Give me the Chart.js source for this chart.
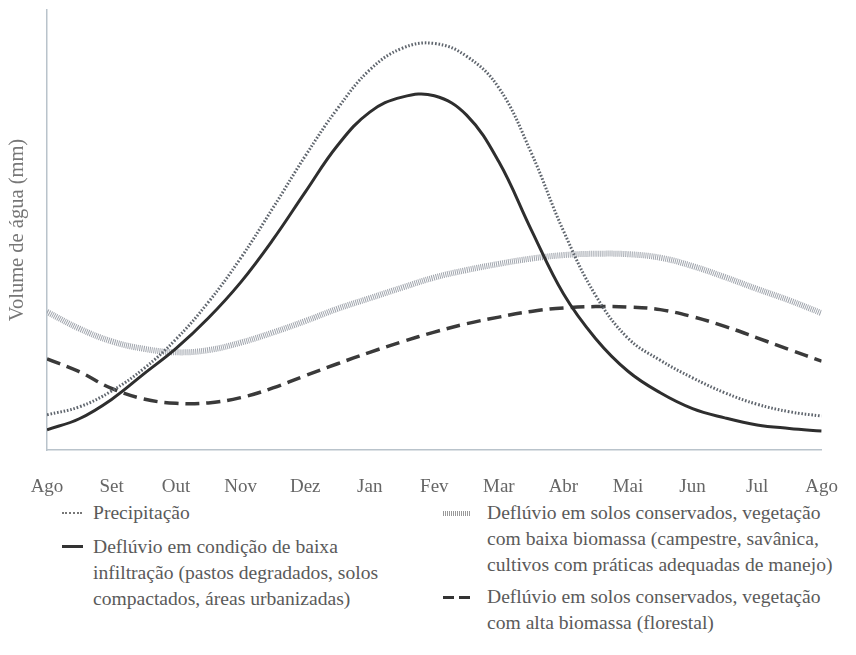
<!DOCTYPE html>
<html>
<head>
<meta charset="utf-8">
<script src="https://cdn.jsdelivr.net/npm/chart.js@4"></script>
<style>
  body { margin: 0; background: #fff; }
  #wrap { position: relative; width: 856px; height: 655px; font-family: "Liberation Serif", "DejaVu Serif", serif; color: #5a5a5a; }
  #grafico { position: absolute; left: 0; top: 0; }
  .item { position: absolute; font-size: 19.6px; line-height: 26px; white-space: nowrap; }
  .amostra { position: absolute; }
</style>
</head>
<body>
<div id="wrap">
  <canvas id="grafico" width="856" height="500"></canvas>

  <div class="amostra" style="left:62px; top:512px; width:20px; border-top:2px dotted #777;"></div>
  <div class="item" style="left:93px; top:500px;">Precipitação</div>

  <div class="amostra" style="left:62px; top:545px; width:21px; height:3px; background:#333;"></div>
  <div class="item" style="left:93px; top:534px;">Deflúvio em condição de baixa<br>infiltração (pastos degradados, solos<br>compactados, áreas urbanizadas)</div>

  <div class="amostra" style="left:443px; top:511px; width:27px; height:5px; background:repeating-linear-gradient(90deg, #999 0 1px, transparent 1px 2px);"></div>
  <div class="item" style="left:487px; top:500px;">Deflúvio em solos conservados, vegetação<br>com baixa biomassa (campestre, savânica,<br>cultivos com práticas adequadas de manejo)</div>

  <div class="amostra" style="left:443px; top:596px; width:27px; height:3px; background:repeating-linear-gradient(90deg, #333 0 11px, transparent 11px 16px);"></div>
  <div class="item" style="left:487px; top:584px;">Deflúvio em solos conservados, vegetação<br>com alta biomassa (florestal)</div>
</div>

<script>
// meses do ano hidrológico (Ago -> Ago)
const meses = ['Ago','Set','Out','Nov','Dez','Jan','Fev','Mar','Abr','Mai','Jun','Jul','Ago'];
// leituras a cada meio mês
const posicoes = [0,0.5,1,1.5,2,2.5,3,3.5,4,4.5,5,5.5,6,6.5,7,7.5,8,8.5,9,9.5,10,10.5,11,11.5,12];

const precipitacao =     [8.0,9.8,13.4,18.5,25.2,33.6,43.6,55.0,66.8,77.6,86.4,91.3,92.4,89.5,82.3,67.6,49.8,35.1,25.4,20.4,16.4,13.0,10.4,8.7,7.7];
const baixaInfiltracao = [4.6,7.1,11.5,17.3,23.1,30.0,38.1,47.8,58.6,69.2,76.8,80.2,80.5,76.1,65.5,50.1,35.5,25.3,17.9,13.0,9.4,7.3,5.7,4.9,4.3];
const baixaBiomassa =    [31.4,27.6,24.7,23.0,22.2,22.7,24.4,26.7,29.3,32.1,34.5,36.9,39.2,40.9,42.3,43.5,44.3,44.6,44.5,43.7,41.8,39.3,36.6,34.0,31.1];
const altaBiomassa =     [20.7,17.8,14.0,11.6,10.6,10.7,11.9,14.1,16.9,19.6,22.2,24.6,26.8,28.7,30.2,31.5,32.3,32.6,32.5,31.9,30.3,28.1,25.5,22.8,20.2];

function pontos(valores) {
  return posicoes.map((x, i) => ({ x: x, y: valores[i] }));
}

const fonte = { family: '"Liberation Serif", "DejaVu Serif", serif', size: 19 };

new Chart(document.getElementById('grafico'), {
  type: 'line',
  data: {
    datasets: [
      {
        label: 'Deflúvio em condição de baixa infiltração',
        data: pontos(baixaInfiltracao),
        borderColor: '#2e2e2e',
        borderWidth: 3
      },
      {
        label: 'Precipitação',
        data: pontos(precipitacao),
        borderColor: '#5f656d',
        borderWidth: 3,
        borderDash: [1.6, 1.8]
      },
      {
        label: 'Deflúvio em solos conservados, vegetação com alta biomassa',
        data: pontos(altaBiomassa),
        borderColor: '#3a3a3a',
        borderWidth: 3.5,
        borderDash: [14, 7]
      },
      {
        label: 'Deflúvio em solos conservados, vegetação com baixa biomassa',
        data: pontos(baixaBiomassa),
        borderColor: '#a0a5ad',
        borderWidth: 6,
        borderDash: [1, 1]
      }
    ]
  },
  options: {
    responsive: false,
    animation: false,
    layout: { padding: { top: 10, right: 18, left: 0, bottom: 0 } },
    elements: {
      point: { radius: 0 },
      line: { tension: 0.4, fill: false }
    },
    plugins: {
      legend: { display: false },
      tooltip: { enabled: false }
    },
    scales: {
      x: {
        type: 'linear',
        min: 0,
        max: 12,
        grid: { display: false },
        border: { display: true, color: '#b9c3cb', width: 1.5 },
        ticks: {
          stepSize: 1,
          padding: 18,
          color: '#666',
          font: fonte,
          callback: (v) => meses[v]
        },
        afterFit: (eixo) => { eixo.height = 50; }
      },
      y: {
        min: 0,
        max: 100,
        grid: { display: false },
        border: { display: true, color: '#b9c3cb', width: 1.5 },
        ticks: { display: false },
        title: {
          display: true,
          text: 'Volume de água (mm)',
          color: '#777',
          font: { family: fonte.family, size: 20.5 },
          padding: { top: 5, bottom: 0 }
        },
        afterFit: (eixo) => { eixo.width = 47; }
      }
    }
  }
});
</script>
</body>
</html>
